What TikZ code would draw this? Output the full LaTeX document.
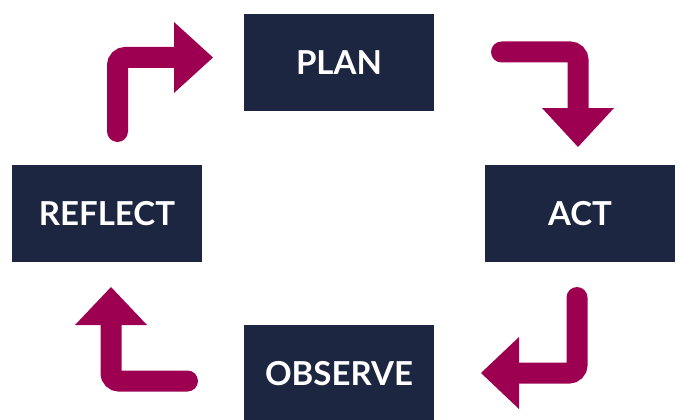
\documentclass[tikz,border=0pt]{standalone}
\usepackage{fontspec}
\setmainfont{Lato}
\definecolor{navy}{HTML}{1D2640}
\definecolor{berry}{HTML}{9E0051}
\begin{document}
\begin{tikzpicture}[x=1pt,y=-1pt,
  box/.style={fill=navy,minimum width=190pt,minimum height=97pt,inner sep=0pt,
    text=white,font=\fontsize{33}{33}\selectfont\bfseries},
  stem/.style={draw=berry,line width=21pt,line cap=round,rounded corners=8pt},
  head/.style={fill=berry}]
\useasboundingbox (0,0) rectangle (680,420);
\node[box] (plan) at (339,62.5) {PLAN};
\node[box] (act) at (580,213.5) {ACT};
\node[box] (reflect) at (107,213.5) {REFLECT};
\node[box] (observe) at (339,373.5) {OBSERVE};
% arrow reflect -> plan
\coordinate (a1s) at (117.5,131.5);
\coordinate (a1c) at (117.5,57.5);
\coordinate (a1e) at (174,57.5);
\draw[stem] (a1s) -- (a1c) -- (a1e);
\fill[head] (174,22) -- (213,57.5) -- (174,93) -- cycle;
% arrow plan -> act
\coordinate (a2s) at (501.5,52);
\coordinate (a2c) at (578,52);
\coordinate (a2e) at (578,108);
\draw[stem] (a2s) -- (a2c) -- (a2e);
\fill[head] (542,108) -- (578,147) -- (614,108) -- cycle;
% arrow act -> observe
\coordinate (a3s) at (577,297.5);
\coordinate (a3c) at (577,373);
\coordinate (a3e) at (519,373);
\draw[stem] (a3s) -- (a3c) -- (a3e);
\fill[head] (519,337) -- (481,373) -- (519,409) -- cycle;
% arrow observe -> reflect
\coordinate (a4s) at (187.5,381);
\coordinate (a4c) at (111,381);
\coordinate (a4e) at (111,325);
\draw[stem] (a4s) -- (a4c) -- (a4e);
\fill[head] (75,325) -- (111,287) -- (147,325) -- cycle;
\end{tikzpicture}
\end{document}
